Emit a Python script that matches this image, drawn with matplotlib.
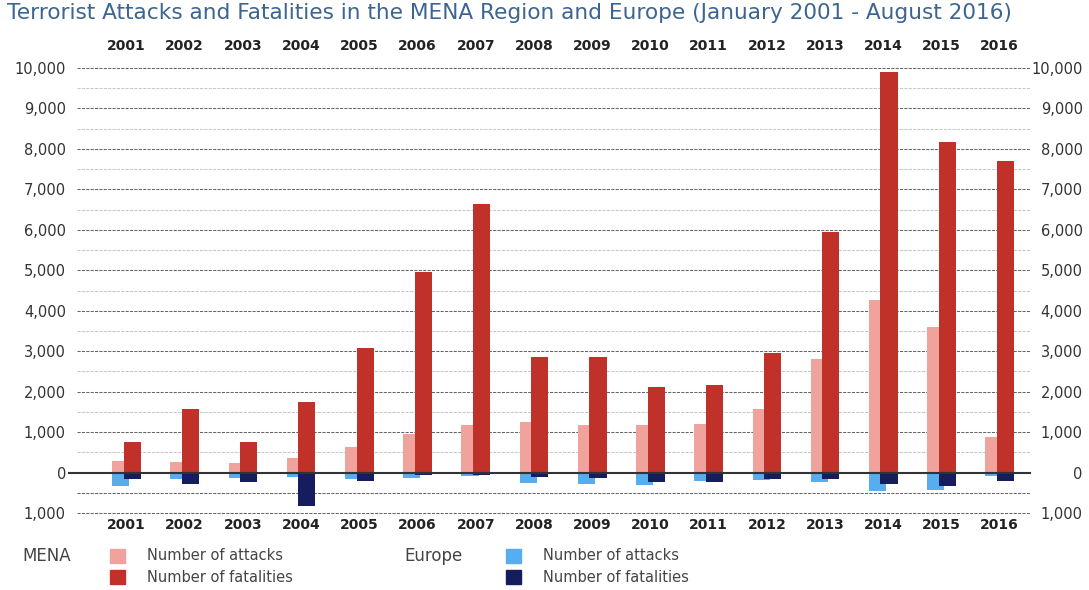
import matplotlib.pyplot as plt
import matplotlib.patches as mpatches
import numpy as np

plt.rcParams['font.family'] = ['DejaVu Sans']

years = [str(y) for y in range(2001, 2017)]
mena_attacks = [290, 250, 225, 360, 620, 955, 1170, 1250, 1170, 1170, 1195, 1570, 2800, 4265, 3600, 880]
mena_fatal = [750, 1565, 755, 1745, 3070, 4965, 6640, 2845, 2845, 2120, 2160, 2945, 5955, 9890, 8170, 7705]
eu_attacks = [330, 150, 135, 110, 150, 125, 95, 256, 280, 300, 215, 175, 240, 455, 430, 85]
eu_fatal = [165, 295, 235, 835, 215, 60, 58, 100, 124, 240, 240, 150, 150, 280, 330, 210]

c_pink = '#f0a29c'
c_red = '#bf3129'
c_blue = '#56aef0'
c_navy = '#161d5e'

fig = plt.figure(figsize=(10.89, 5.90), dpi=100)
ax = fig.add_axes([77/1089, 1-513/590, (1030-77)/1089, (513-68)/590])

x = np.arange(len(years))
w = 0.295
off = 0.099
ax.bar(x - off, mena_attacks, w, color=c_pink, zorder=3)
ax.bar(x + off, mena_fatal, w, color=c_red, zorder=4)
ax.bar(x - off, [-v for v in eu_attacks], w, color=c_blue, zorder=3)
ax.bar(x + off, [-v for v in eu_fatal], w, color=c_navy, zorder=4)

ax.set_xlim(-0.85, 15.52)
ax.set_ylim(-1000, 10000)

# grid lines, darker every 1000
for v in range(-1000, 10001, 500):
    if v == 0:
        continue
    if v % 1000 == 0 or v < 0:
        ax.axhline(v, color='#666666', lw=0.75, ls=(0, (3, 1.2)), zorder=1, clip_on=False)
    else:
        ax.axhline(v, color='#c8c8c8', lw=0.75, ls=(0, (3, 1.2)), zorder=1, clip_on=False)
ax.plot([-0.99, 15.52], [0, 0], color='#333333', lw=1.5, zorder=5, clip_on=False)

for s in ax.spines.values():
    s.set_visible(False)
ax.set_xticks([])
ticks = list(range(-1000, 10001, 1000))
labels = ['{:,}'.format(abs(t)) for t in ticks]
ax.set_yticks(ticks)
ax.set_yticklabels(labels)
ax.tick_params(axis='y', length=0, labelsize=10.5, labelcolor='#333333', pad=8)

ax2 = ax.twinx()
ax2.set_ylim(-1000, 10000)
for s in ax2.spines.values():
    s.set_visible(False)
ax2.set_yticks(ticks)
ax2.set_yticklabels(labels)
ax2.tick_params(axis='y', length=0, labelsize=10.5, labelcolor='#333333', pad=38)
for t in ax2.get_yticklabels():
    t.set_horizontalalignment('right')

# year labels top and bottom
for i, yr in enumerate(years):
    ax.text(i, 1 + 22/445, yr, transform=ax.get_xaxis_transform(), ha='center', va='center',
            fontsize=10, fontweight='bold', color='#222222')
    ax.text(i, -12/445, yr, transform=ax.get_xaxis_transform(), ha='center', va='center',
            fontsize=10, fontweight='bold', color='#222222')

fig.text(7/1089, 1-13/590, 'Terrorist Attacks and Fatalities in the MENA Region and Europe (January 2001 - August 2016)',
         ha='left', va='center', fontsize=15.6, color='#3d6591')

# legend
def leg_item(px, py, color, label):
    fig.patches.append(mpatches.Rectangle((px/1089, 1-(py+7)/590), 15/1089, 14/590,
                                          transform=fig.transFigure, color=color))
    fig.text((px+37)/1089, 1-py/590, label, ha='left', va='center', fontsize=10.5, color='#444444')

fig.text(22/1089, 1-556/590, 'MENA', ha='left', va='center', fontsize=12, color='#444444')
fig.text(404/1089, 1-556/590, 'Europe', ha='left', va='center', fontsize=12, color='#444444')
leg_item(110, 556, c_pink, 'Number of attacks')
leg_item(110, 577, c_red, 'Number of fatalities')
leg_item(506, 556, c_blue, 'Number of attacks')
leg_item(506, 577, c_navy, 'Number of fatalities')

fig.savefig('out.png', dpi=100)
